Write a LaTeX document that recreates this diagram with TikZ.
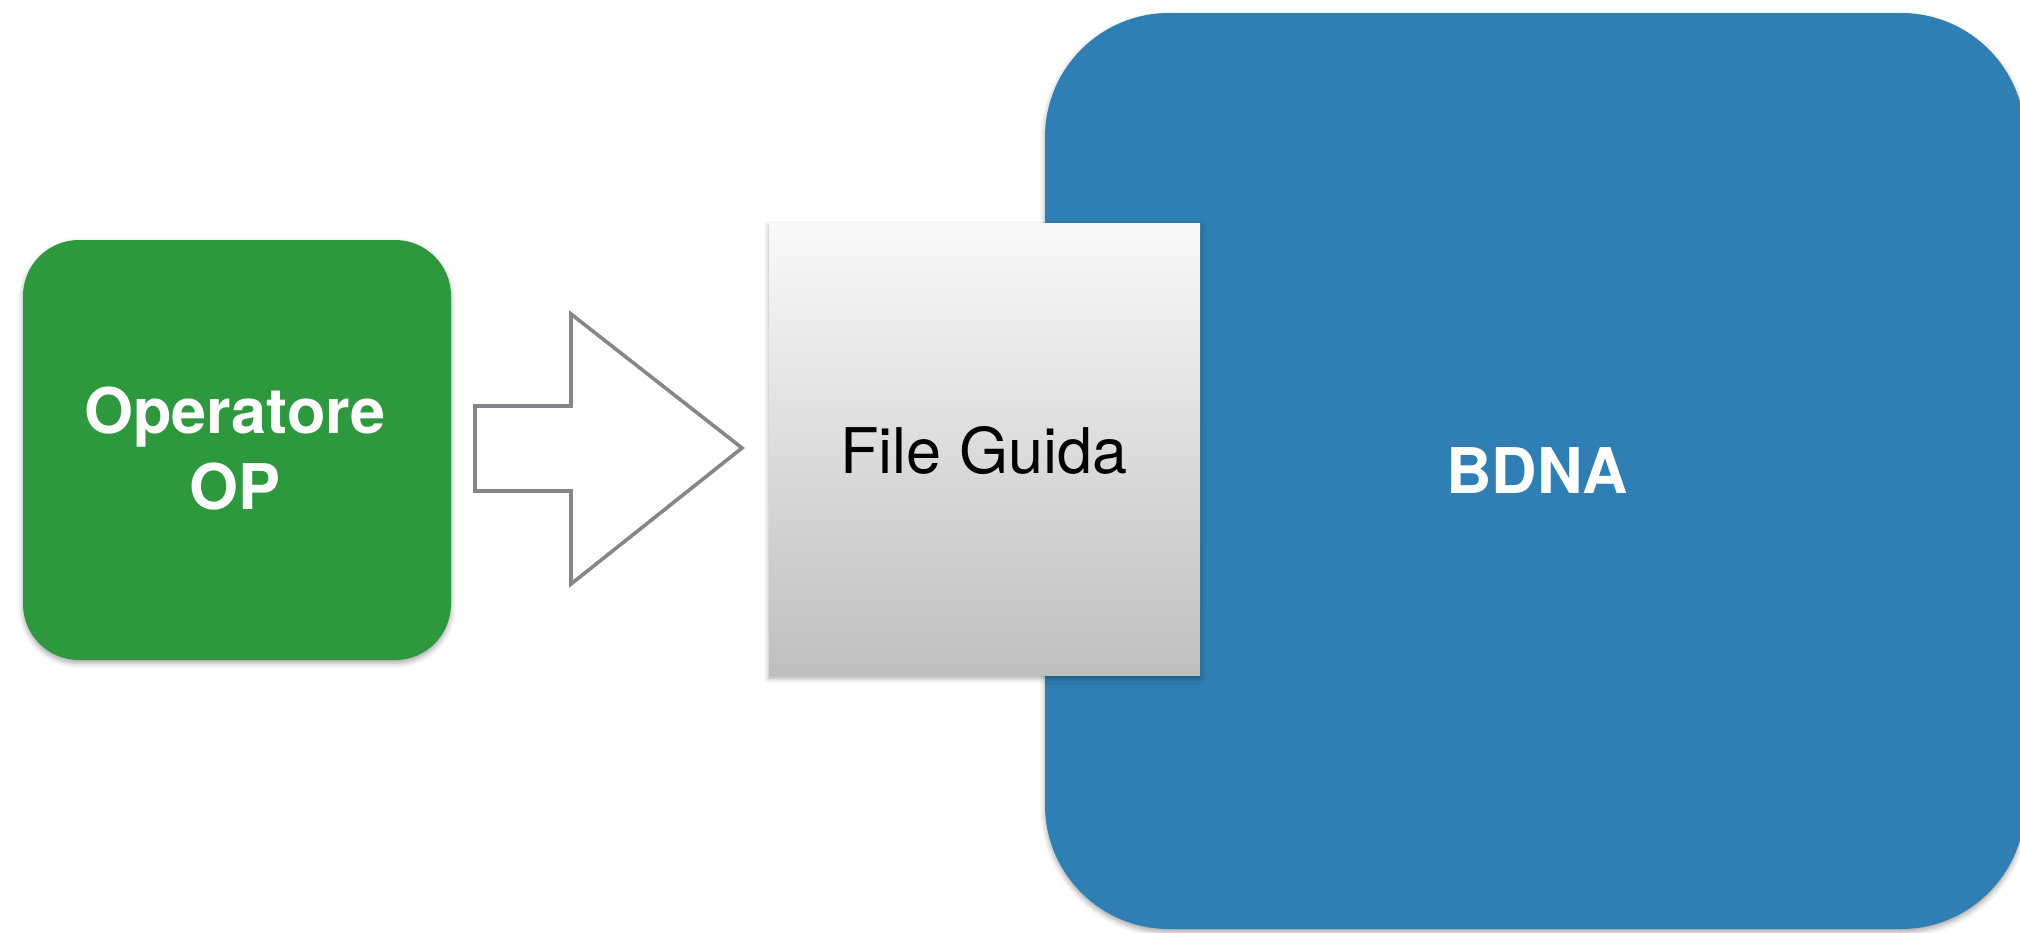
\documentclass[tikz,border=0pt]{standalone}
\usepackage{fontspec}
\setmainfont{TeX Gyre Heros}
\usetikzlibrary{shadows.blur}
\definecolor{opgreen}{RGB}{46,152,62}
\definecolor{bdnablue}{RGB}{47,127,180}
\definecolor{arrowgray}{RGB}{133,134,140}
\definecolor{fgtop}{RGB}{249,249,249}
\definecolor{fgbot}{RGB}{191,191,191}
\begin{document}
\begin{tikzpicture}[x=0.25pt,y=-0.25pt,
  softshadow/.style={blur shadow={shadow xshift=0pt,shadow yshift=-0.8pt,shadow blur radius=1.3pt,shadow opacity=35}},
  panel/.style={draw=none,inner sep=0pt,softshadow},
  bigtext/.style={font=\fontsize{10}{12}\selectfont,inner sep=0pt,anchor=base,scale=1.575,transform shape},
  boldtext/.style={bigtext,text=white,font=\fontsize{10}{12}\selectfont\bfseries},
  blockarrow/.style={draw=arrowgray,fill=white,line width=0.9pt,line join=miter}]
\useasboundingbox (0,0) rectangle (2020,932);
\node[panel,fill=bdnablue,rounded corners=31pt,minimum width=245pt,minimum height=229pt] (bdna) at (1535,471) {};
\node[panel,fill=opgreen,rounded corners=14pt,minimum width=107pt,minimum height=105pt] (op) at (237,450) {};
\node[panel,top color=fgtop,bottom color=fgbot,minimum width=107.75pt,minimum height=113pt] (fg) at (984.5,449) {};
\node[boldtext] (opl1) at (235,433) {Operatore};
\node[boldtext] (opl2) at (235,509) {OP};
\node[bigtext,text=black] (fgl) at (984,473) {File Guida};
\node[boldtext] (bdnal) at (1537,493) {BDNA};
\coordinate (atail) at (475,448);
\coordinate (atip) at (742,448);
\draw[blockarrow] (atail) ++(0,-42) -- ++(96,0) -- ++(0,-92) -- (atip) -- ++(-171,136) -- ++(0,-93) -- ++(-96,0) -- cycle;
\end{tikzpicture}
\end{document}
